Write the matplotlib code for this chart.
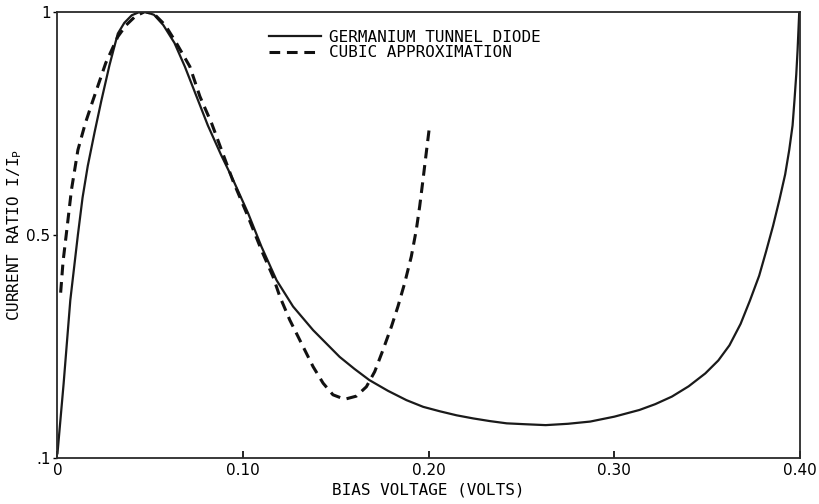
import matplotlib
matplotlib.use('Agg')
import matplotlib.pyplot as plt

# ---------- curve data (bias voltage in volts, current ratio I/Ip) ----------

ge_volts = [0.0, 0.0033, 0.0069, 0.011, 0.0135, 0.0163, 0.020, 0.0236, 0.028,
            0.0325, 0.036, 0.040, 0.044, 0.047, 0.052, 0.057, 0.063, 0.0686,
            0.0749, 0.081, 0.088, 0.0946, 0.1027, 0.1099, 0.118, 0.1269,
            0.1377, 0.152, 0.160, 0.168, 0.178, 0.188, 0.197, 0.206, 0.215,
            0.224, 0.233, 0.242, 0.252, 0.263, 0.275, 0.287, 0.300, 0.3135,
            0.322, 0.331, 0.340, 0.349, 0.356, 0.362, 0.368, 0.373, 0.378,
            0.3817, 0.3855, 0.3889, 0.392, 0.3942, 0.396, 0.397, 0.398,
            0.3987, 0.3996]
ge_ratio = [0.01, 0.166, 0.353, 0.50, 0.583, 0.654, 0.730, 0.80, 0.880,
            0.951, 0.975, 0.992, 0.999, 1.0, 0.993, 0.97, 0.93, 0.877,
            0.81, 0.745, 0.68, 0.623, 0.548, 0.473, 0.398, 0.339,
            0.286, 0.226, 0.199, 0.174, 0.150, 0.129, 0.114, 0.104, 0.095,
            0.088, 0.082, 0.077, 0.075, 0.073, 0.076, 0.081, 0.092, 0.107,
            0.120, 0.137, 0.160, 0.189, 0.218, 0.252, 0.300, 0.352, 0.408,
            0.462, 0.520, 0.578, 0.635, 0.690, 0.745, 0.800, 0.860,
            0.914, 1.0]

cubic_volts = [0.0017, 0.003, 0.005, 0.0075, 0.011, 0.015, 0.019, 0.026,
               0.0325, 0.037, 0.042, 0.047, 0.052, 0.058, 0.064, 0.0713,
               0.0767, 0.083, 0.0946, 0.1027, 0.1099, 0.1161, 0.1198, 0.1251,
               0.1314, 0.1377, 0.1431, 0.1484, 0.1547, 0.161, 0.1664, 0.1709,
               0.1753, 0.1799, 0.1834, 0.187, 0.1906, 0.1933, 0.1951, 0.1969,
               0.1987, 0.2005]
cubic_ratio = [0.37, 0.44, 0.51, 0.60, 0.69, 0.75, 0.80, 0.885,
               0.944, 0.97, 0.99, 1.0, 0.995, 0.97, 0.93, 0.877,
               0.81, 0.75, 0.62, 0.54, 0.465, 0.406, 0.361, 0.309,
               0.2565, 0.204, 0.167, 0.141, 0.131, 0.138, 0.159, 0.193,
               0.241, 0.294, 0.339, 0.391, 0.451, 0.511, 0.563, 0.623,
               0.685, 0.746]

x_ticks = [0.0, 0.10, 0.20, 0.30, 0.40]
x_tick_labels = ['0', '0.10', '0.20', '0.30', '0.40']
y_ticks = [0.0, 0.5, 1.0]
y_tick_labels = ['.1', '0.5', '1']

LETTERING = 'DejaVu Sans Mono'

# ---------- figure ----------

fig = plt.figure(figsize=(8.19, 5.04), dpi=100)
ax = fig.add_axes([0.0702, 0.0919, 0.9066, 0.8849])

ax.plot(ge_volts, ge_ratio, color='#1a1a1a', lw=1.6,
        solid_joinstyle='round', label='GERMANIUM TUNNEL DIODE')
ax.plot(cubic_volts, cubic_ratio, color='#111111', lw=2.2,
        linestyle=(0, (3.5, 2.2)), label='CUBIC APPROXIMATION')

ax.set_xlim(0, 0.40)
ax.set_ylim(0, 1.0)

for side in ax.spines.values():
    side.set_linewidth(1.3)
    side.set_color('#2a2a2a')

ax.set_xticks(x_ticks)
ax.set_xticklabels(x_tick_labels)
ax.set_yticks(y_ticks)
ax.set_yticklabels(y_tick_labels)
ax.tick_params(axis='x', direction='in', length=5, width=1.2, labelsize=11, pad=4)
ax.tick_params(axis='y', direction='out', length=3, width=1.0, labelsize=11, pad=2)

ax.set_xlabel('BIAS VOLTAGE (VOLTS)', fontsize=11.5, family=LETTERING, labelpad=3)
ax.set_ylabel(r'CURRENT RATIO I/I$_\mathregular{P}$', fontsize=11.5,
              family=LETTERING, labelpad=2)

ax.legend(loc='upper left', bbox_to_anchor=(0.27, 0.985), frameon=False,
          prop={'family': LETTERING, 'size': 11.5}, handlelength=3.25,
          handletextpad=0.5, labelspacing=0.05, borderpad=0.2)

plt.savefig('out.png', dpi=100)
